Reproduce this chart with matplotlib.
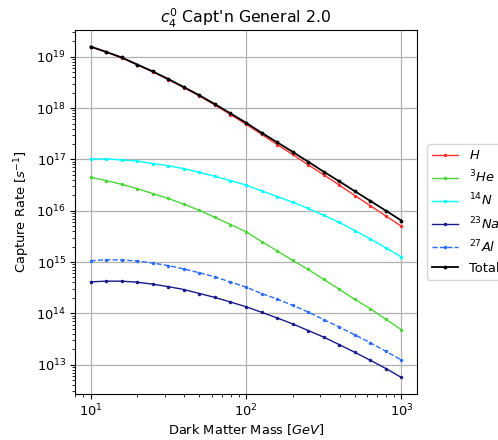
import matplotlib
matplotlib.use("Agg")
import matplotlib.pyplot as plt

mass = [10, 12.59, 15.85, 19.95, 25.12, 31.62, 39.81, 50.12, 63.10, 79.43, 100,
        125.9, 158.5, 199.5, 251.2, 316.2, 398.1, 501.2, 631.0, 794.3, 1000]

rate_H = [1.570e19, 1.239e19, 9.59e18, 7.00e18, 5.11e18, 3.61e18, 2.51e18, 1.726e18,
          1.148e18, 7.50e17, 4.86e17, 3.09e17, 1.95e17, 1.247e17, 7.87e16, 5.01e16,
          3.16e16, 1.977e16, 1.250e16, 7.87e15, 4.97e15]
rate_He3 = [4.47e16, 3.86e16, 3.27e16, 2.69e16, 2.16e16, 1.730e16, 1.343e16, 1.014e16,
            7.41e15, 5.37e15, 3.89e15, 2.51e15, 1.652e15, 1.072e15, 7.16e14, 4.57e14,
            2.95e14, 1.862e14, 1.230e14, 7.64e13, 4.79e13]
rate_N14 = [1.016e17, 1.023e17, 9.77e16, 9.29e16, 8.32e16, 7.53e16, 6.61e16, 5.58e16,
            4.68e16, 3.86e16, 3.16e16, 2.44e16, 1.892e16, 1.469e16, 1.109e16, 8.13e15,
            5.94e15, 4.10e15, 2.82e15, 1.892e15, 1.250e15]
rate_Na23 = [4.10e14, 4.23e14, 4.23e14, 4.04e14, 3.70e14, 3.31e14, 2.91e14, 2.43e14,
             2.04e14, 1.660e14, 1.343e14, 1.047e14, 8.13e13, 6.22e13, 4.62e13, 3.43e13,
             2.45e13, 1.738e13, 1.213e13, 8.38e12, 5.61e12]
rate_Al27 = [1.059e15, 1.107e15, 1.096e15, 1.047e15, 9.55e14, 8.51e14, 7.33e14, 6.17e14,
             5.13e14, 4.07e14, 3.25e14, 2.43e14, 1.897e14, 1.429e14, 1.059e14, 7.53e13,
             5.41e13, 3.80e13, 2.67e13, 1.811e13, 1.230e13]
rate_total = [1.585e19, 1.250e19, 9.70e18, 7.08e18, 5.19e18, 3.69e18, 2.57e18, 1.778e18,
              1.194e18, 7.89e17, 5.19e17, 3.31e17, 2.16e17, 1.406e17, 9.02e16, 5.75e16,
              3.74e16, 2.40e16, 1.549e16, 1.00e16, 6.41e15]

fs = 9.4
fig = plt.figure(figsize=(4.98, 4.40), dpi=100)
ax = fig.add_axes([0.1506, 0.1045, 0.8373 - 0.1506, 0.9318 - 0.1045])

ax.plot(mass, rate_H, color='#ff3030', lw=1.0, marker='.', ms=3, label='$H$')
ax.plot(mass, rate_He3, color='#4cd63a', lw=1.0, marker='.', ms=3, label='$^{3}He$')
ax.plot(mass, rate_N14, color='cyan', lw=1.0, marker='.', ms=3, label='$^{14}N$')
ax.plot(mass, rate_Na23, color='#1a1a8c', lw=1.0, marker='.', ms=3, label='$^{23}Na$')
ax.plot(mass, rate_Al27, color='#2a6cff', lw=1.0, ls='--', marker='.', ms=3, label='$^{27}Al$')
ax.plot(mass, rate_total, color='black', lw=1.3, marker='.', ms=3.5, label='Total')

ax.set_xscale('log')
ax.set_yscale('log')
ax.grid(True, which='major', color='#b0b0b0', lw=0.9)
ax.tick_params(labelsize=fs, pad=3)
ax.set_title("$c_4^0$ Capt'n General 2.0", fontsize=11.3, pad=5)
ax.set_xlabel('Dark Matter Mass $[GeV]$', fontsize=fs, labelpad=2)
ax.set_ylabel('Capture Rate $[s^{-1}]$', fontsize=fs, labelpad=3)
ax.legend(loc='center left', bbox_to_anchor=(1.01, 0.5), fontsize=fs)

fig.savefig('out.png', dpi=100)
